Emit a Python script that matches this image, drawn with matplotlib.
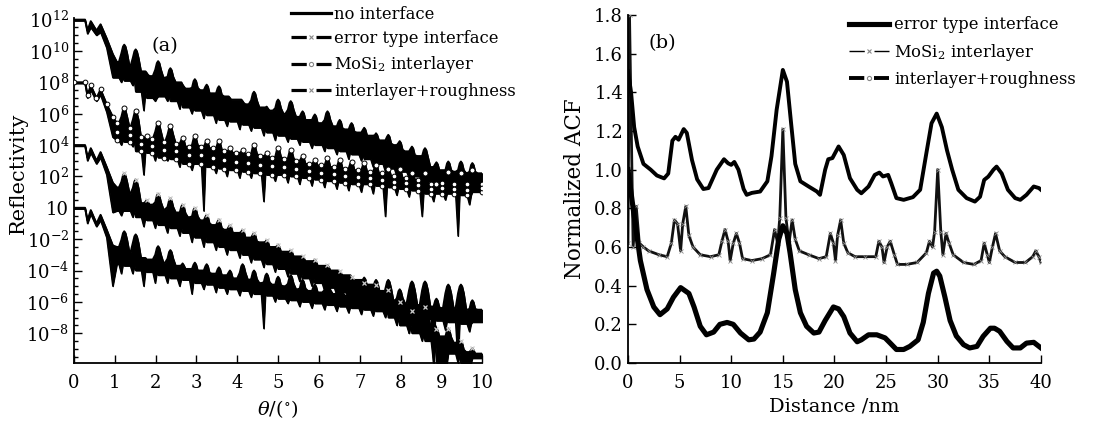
import numpy as np
import matplotlib
matplotlib.use("Agg")
import matplotlib.pyplot as plt
from matplotlib.lines import Line2D
from matplotlib.ticker import FixedLocator, FixedFormatter, NullFormatter, FormatStrFormatter

plt.rcParams['font.family'] = ['DejaVu Serif']
plt.rcParams['mathtext.fontset'] = 'dejavuserif'
plt.rcParams['lines.scale_dashes'] = False

# ---------------- Panel (a) data (log10 of reflectivity) ----------------
theta_early = [0.0, 0.27, 0.33, 0.41, 0.55, 0.65, 0.80, 0.95]
theta_peak = [1.23, 1.51, 1.78, 2.06, 2.36, 2.66, 2.96, 3.25, 3.55, 3.82,
              4.13, 4.41, 4.72, 5.00, 5.31, 5.60, 5.90, 6.21, 6.51, 6.80,
              7.11, 7.40, 7.70, 7.98, 8.28, 8.60, 8.88, 9.17, 9.48, 9.76]
theta_gap = [1.05, 1.37, 1.65, 1.92, 2.21, 2.51, 2.81, 3.10, 3.40, 3.68, 3.97,
             4.27, 4.56, 4.86, 5.15, 5.45, 5.75, 6.05, 6.36, 6.65, 6.95,
             7.25, 7.55, 7.84, 8.13, 8.44, 8.74, 9.02, 9.32, 9.62, 10.0]

# no interface (top curve)
A_early_hi = [12, 12, 11.3, 11.9, 11.3, 11.7, 10.8, 9.8]
A_early_lo = [11.93, 11.93, 11.1, 11.5, 11.0, 11.2, 10.2, 8.3]
A_peak = [10.4, 10.1, 8.6, 9.35, 8.9, 7.85, 8.2, 7.85, 7.75, 7.0, 6.8, 7.4, 6.45, 6.9, 6.8,
          6.15, 5.95, 6.15, 5.6, 5.4, 5.1, 4.75, 4.65, 4.25, 3.9, 3.8, 2.9, 2.95, 2.95, 2.85]
A_top = [9.3, 9.0, 8.7, 8.4, 8.3, 8.0, 7.6, 7.5, 7.3, 7.1, 6.9, 6.6, 6.4, 6.2, 6.0, 5.8,
         5.6, 5.4, 5.2, 5.0, 4.8, 4.6, 4.3, 4.0, 3.6, 3.3, 2.6, 2.4, 2.3, 2.2, 2.2]
A_bot = [8.3, 8.1, 7.4, 7.0, 7.1, 6.8, 6.4, 6.2, 5.9, 5.6, 5.5, 5.3, 5.1, 4.8, 4.6, 4.4,
         4.2, 4.0, 3.8, 3.6, 3.4, 3.1, 2.8, 2.5, 2.3, 2.0, 1.7, 1.5, 1.4, 1.4, 1.4]
A_dip = [8.0, 7.8, 6.2, 6.8, 6.8, 6.3, 6.0, 5.7, 5.4, 5.2, 5.0, 4.9, 4.6, 4.3, 4.2, 4.0,
         3.8, 3.6, 3.4, 3.1, 3.0, 2.6, 2.3, 2.0, 1.9, 1.6, 1.3, 1.2, 1.1, 1.0]

# MoSi2 interlayer (circles)
B_early_hi = [8, 8, 7.2, 7.8, 7.0, 7.55, 6.6, 5.8]
B_early_lo = [7.93, 7.93, 7.0, 7.5, 6.8, 7.2, 6.1, 4.5]
B_peak = [6.35, 6.15, 4.55, 5.4, 5.2, 4.45, 4.55, 4.25, 4.25, 3.8, 3.7, 4.0, 3.5, 3.8, 3.7,
          3.3, 3.05, 3.15, 3.05, 2.95, 2.85, 2.75, 2.5, 2.45, 2.2, 2.2, 1.5, 2.3, 2.2, 2.4]
B_top = [5.4, 5.1, 4.5, 4.4, 4.2, 4.1, 3.9, 3.9, 3.8, 3.6, 3.5, 3.4, 3.3, 3.2, 3.1, 3.0,
         2.8, 2.7, 2.6, 2.5, 2.4, 2.3, 2.2, 2.0, 1.9, 1.8, 1.5, 1.6, 1.5, 1.5, 1.5]
B_bot = [4.3, 4.2, 3.6, 3.5, 3.2, 3.1, 2.8, 2.8, 2.6, 2.5, 2.4, 2.3, 2.2, 2.1, 2.1, 2.0,
         1.9, 1.8, 1.7, 1.6, 1.5, 1.5, 1.4, 1.3, 1.2, 1.1, 0.9, 0.9, 0.9, 0.8, 1.0]
B_dip = [4.0, 3.9, 2.1, 3.0, 3.0, 2.6, 2.4, -0.2, 2.2, 2.0, 1.9, 1.9, 0.4, 1.7, 1.6, 1.5,
         1.4, 1.3, 1.2, 1.1, 1.0, 0.9, -0.55, 0.8, 0.7, -0.55, 0.4, 0.5, -1.8, 0.2]

# error type interface (x markers)
C_early_hi = [4, 4, 3.2, 3.8, 3.0, 3.55, 2.6, 1.6]
C_early_lo = [3.93, 3.93, 3.0, 3.5, 2.8, 3.2, 2.1, -0.3]
C_peak = [2.2, 1.8, 0.5, 0.9, 0.6, 0.2, 0.0, -0.45, -0.75, -1.1, -1.4, -1.6, -2.05, -2.35,
          -2.7, -3.1, -3.3, -3.65, -4.05, -4.4, -4.8, -4.9, -5.25, -6.0, -6.6, -6.3, -7.7,
          -7.7, -8.5, -8.95]
C_top = [1.3, 0.9, 0.3, 0.2, -0.1, -0.3, -0.6, -0.8, -1.1, -1.4, -1.6, -1.9, -2.2, -2.5,
         -2.8, -3.1, -3.4, -3.7, -4.0, -4.3, -4.6, -4.9, -5.3, -5.9, -6.4, -6.9, -7.5, -8.2,
         -8.6, -9.2, -9.3]
C_bot = [-0.2, -0.2, -0.6, -0.8, -1.1, -1.3, -1.6, -1.9, -2.2, -2.5, -2.7, -3.0, -3.3, -3.6,
         -3.9, -4.2, -4.5, -4.8, -5.1, -5.4, -5.7, -6.0, -6.4, -7.0, -7.5, -8.0, -8.5, -9.9,
         -9.3, -9.9, -9.6]
C_dip = [-0.5, -0.6, -1.2, -1.3, -1.6, -1.8, -2.2, -2.5, -2.7, -3.0, -3.2, -3.5, -3.8, -4.1,
         -4.4, -4.7, -5.0, -5.3, -5.6, -5.9, -6.2, -6.5, -6.9, -7.5, -8.0, -8.5, -9.9, -9.9,
         -9.9, -9.9]

# interlayer+roughness (bottom curve)
D_early_hi = [0, 0, -0.8, -0.15, -1.0, -0.45, -1.4, -2.4]
D_early_lo = [-0.07, -0.07, -1.0, -0.4, -1.2, -0.8, -1.9, -5.0]
D_peak = [-1.5, -1.7, -3.3, -2.45, -2.7, -3.55, -3.5, -3.6, -3.8, -4.0, -3.6, -4.0, -4.2,
          -4.4, -4.3, -4.6, -4.9, -4.7, -4.9, -5.0, -4.45, -4.6, -4.6, -5.2, -4.7, -4.7,
          -5.8, -4.9, -4.9, -5.9]
D_top = [-2.5, -2.9, -3.2, -3.3, -3.5, -3.7, -3.9, -4.0, -4.2, -4.3, -4.5, -4.6, -4.8, -4.9,
         -5.0, -5.2, -5.3, -5.4, -5.5, -5.6, -5.7, -5.8, -5.9, -6.0, -6.1, -6.2, -6.3, -6.4,
         -6.4, -6.5, -6.5]
D_bot = [-3.6, -3.7, -4.0, -4.1, -4.3, -4.5, -4.6, -4.8, -4.9, -5.1, -5.2, -5.3, -5.5, -5.6,
         -5.8, -5.9, -6.0, -6.1, -6.2, -6.3, -6.4, -6.5, -6.6, -6.8, -6.9, -7.0, -7.1, -7.2,
         -7.3, -7.4, -7.3]
D_dip = [-4.2, -4.2, -5.0, -4.8, -4.8, -5.0, -5.5, -5.2, -5.4, -5.5, -5.6, -5.7, -7.7, -6.0,
         -6.1, -6.3, -6.4, -6.5, -6.6, -6.7, -6.8, -6.9, -7.0, -7.3, -8.0, -7.5, -9.9, -7.8,
         -9.9, -7.9]

ytick_exp = [12, 10, 8, 6, 4, 2, 0, -2, -4, -6, -8]
ytick_labels = [r'$10^{12}$', r'$10^{10}$', r'$10^{8}$', r'$10^{6}$', r'$10^{4}$',
                r'$10^{2}$', '10', r'$10^{-2}$', r'$10^{-4}$', r'$10^{-6}$', r'$10^{-8}$']

# ---------------- Panel (b) data ----------------
err_x = [0, 0.55, 1.2, 1.84, 2.5, 3.1, 3.8, 4.4, 5.1, 5.9, 6.4, 7.0, 7.6, 8.3, 8.9, 9.6,
         10.2, 10.9, 11.7, 12.2, 12.8, 13.5, 14.1, 14.6, 15.0, 15.4, 15.7, 16.2, 16.7, 17.3,
         18.0, 18.5, 19.1, 19.9, 20.4, 20.9, 21.5, 22.2, 22.6, 23.3, 24.1, 24.9, 25.4, 26.0,
         26.7, 27.3, 28.1, 28.6, 29.1, 29.6, 29.9, 30.2, 30.7, 31.2, 31.8, 32.5, 33.1, 33.8,
         34.4, 35.1, 35.5, 36.0, 36.7, 37.3, 38.0, 38.6, 39.3, 40.0]
err_y = [1.0, 0.78, 0.53, 0.38, 0.29, 0.25, 0.28, 0.34, 0.39, 0.36, 0.29, 0.19, 0.146, 0.16,
         0.2, 0.21, 0.2, 0.155, 0.12, 0.124, 0.16, 0.26, 0.46, 0.64, 0.71, 0.67, 0.57, 0.38,
         0.26, 0.19, 0.155, 0.16, 0.22, 0.29, 0.28, 0.24, 0.155, 0.11, 0.12, 0.146, 0.146,
         0.13, 0.103, 0.07, 0.07, 0.086, 0.12, 0.21, 0.36, 0.465, 0.475, 0.45, 0.34, 0.22,
         0.14, 0.095, 0.078, 0.086, 0.138, 0.18, 0.18, 0.164, 0.112, 0.078, 0.078, 0.103,
         0.107, 0.078]

mo_x = [0.0, 0.15, 0.5, 0.8, 1.1, 1.5, 2.0, 3.0, 3.8, 4.2, 4.5, 4.8, 5.1, 5.3, 5.6, 5.9,
        6.3, 7.0, 8.0, 8.8, 9.1, 9.4, 9.7, 9.9, 10.2, 10.5, 10.8, 11.1, 12.0, 13.0, 13.8,
        14.2, 14.5, 14.7, 15.0, 15.3, 15.6, 15.9, 16.2, 16.6, 17.5, 18.5, 19.2, 19.6, 19.9,
        20.1, 20.3, 20.6, 20.9, 21.3, 22.0, 23.0, 24.0, 24.3, 24.6, 24.8, 25.1, 25.4, 25.8,
        26.1, 27.0, 28.0, 28.9, 29.2, 29.5, 29.7, 30.0, 30.3, 30.5, 30.8, 31.1, 31.5, 32.5,
        33.5, 34.2, 34.5, 34.8, 35.0, 35.3, 35.6, 36.0, 36.5, 37.5, 38.5, 39.2, 39.5, 39.8,
        40.0]
mo_y = [0.62, 1.8, 0.6, 0.81, 0.62, 0.6, 0.58, 0.56, 0.55, 0.62, 0.74, 0.72, 0.58, 0.72,
        0.81, 0.66, 0.6, 0.56, 0.55, 0.56, 0.63, 0.69, 0.63, 0.53, 0.62, 0.67, 0.62, 0.54,
        0.53, 0.54, 0.56, 0.69, 0.62, 0.75, 1.21, 0.75, 0.62, 0.74, 0.64, 0.58, 0.56, 0.54,
        0.55, 0.67, 0.62, 0.53, 0.66, 0.74, 0.62, 0.57, 0.55, 0.55, 0.55, 0.63, 0.6, 0.52,
        0.6, 0.63, 0.56, 0.51, 0.51, 0.52, 0.57, 0.63, 0.6, 0.68, 1.0, 0.68, 0.56, 0.67,
        0.62, 0.56, 0.52, 0.51, 0.53, 0.62, 0.56, 0.52, 0.6, 0.67, 0.58, 0.55, 0.52, 0.52,
        0.55, 0.58, 0.55, 0.52]

ir_x = [0, 0.3, 0.6, 0.94, 1.5, 2.2, 2.8, 3.5, 3.9, 4.3, 4.6, 4.9, 5.4, 5.7, 6.2, 6.7, 7.3,
        7.8, 8.6, 9.3, 9.7, 10.0, 10.3, 10.7, 11.2, 11.5, 12.0, 12.8, 13.5, 13.9, 14.4, 15.0,
        15.4, 15.8, 16.2, 16.7, 17.5, 18.3, 18.6, 19.1, 19.4, 19.8, 20.4, 20.9, 21.5, 22.2,
        22.6, 23.3, 23.9, 24.35, 24.7, 25.2, 25.5, 26.0, 26.7, 27.6, 28.3, 28.9, 29.4, 29.9,
        30.4, 30.9, 31.4, 32.0, 32.8, 33.6, 34.1, 34.5, 34.9, 35.4, 35.7, 36.2, 36.8, 37.5,
        38.0, 38.6, 39.3, 39.8, 40.0]
ir_y = [1.51, 1.4, 1.22, 1.12, 1.03, 1.0, 0.97, 0.955, 0.98, 1.15, 1.17, 1.155, 1.21, 1.19,
        1.05, 0.95, 0.9, 0.905, 1.0, 1.054, 1.033, 1.025, 1.04, 1.0, 0.9, 0.87, 0.88, 0.887,
        0.94, 1.07, 1.31, 1.516, 1.455, 1.24, 1.03, 0.94, 0.913, 0.887, 0.87, 1.0, 1.054,
        1.06, 1.12, 1.076, 0.956, 0.896, 0.878, 0.913, 0.973, 0.985, 0.965, 0.973, 0.93,
        0.853, 0.844, 0.858, 0.896, 1.085, 1.24, 1.29, 1.22, 1.10, 1.0, 0.896, 0.853, 0.835,
        0.86, 0.947, 0.964, 1.0, 1.016, 0.98, 0.896, 0.853, 0.844, 0.87, 0.913, 0.905, 0.896]

# ---------------- Figure ----------------
fig = plt.figure(figsize=(11.15, 4.23), dpi=100)
axa = fig.add_axes([0.0664, 0.1418, 0.366, 0.8155])
axb = fig.add_axes([0.5632, 0.1418, 0.3704, 0.8227])

# peak profile (shape only: half widths in theta, drop from apex in decades)
W_OUT, W_MID, W_IN, DROP_IN, DROP_MID = 0.13, 0.07, 0.03, 0.12, 0.55


def envelope(e_hi, e_lo, pk, top, bot, dip):
    xs = list(theta_early)
    hi = list(e_hi)
    lo = list(e_lo)
    for i, tp in enumerate(theta_peak):
        ml = max(pk[i] - DROP_MID, top[i])
        mr = max(pk[i] - DROP_MID, top[i + 1])
        il = max(pk[i] - DROP_IN, top[i])
        ir = max(pk[i] - DROP_IN, top[i + 1])
        xs += [theta_gap[i], tp - W_OUT, tp - W_MID, tp - W_IN, tp, tp + W_IN, tp + W_MID,
               tp + W_OUT]
        hi += [top[i], top[i], ml, il, pk[i], ir, mr, top[i + 1]]
        lo += [bot[i], bot[i], dip[i], bot[i], bot[i + 1], bot[i + 1], bot[i + 1], bot[i + 1]]
    xs.append(theta_gap[-1])
    hi.append(top[-1])
    lo.append(bot[-1])
    return np.array(xs), 10.0 ** np.array(hi), 10.0 ** np.array(lo)


curves = [
    (A_early_hi, A_early_lo, A_peak, A_top, A_bot, A_dip, None),
    (B_early_hi, B_early_lo, B_peak, B_top, B_bot, B_dip, 'o'),
    (C_early_hi, C_early_lo, C_peak, C_top, C_bot, C_dip, 'x'),
    (D_early_hi, D_early_lo, D_peak, D_top, D_bot, D_dip, None),
]
for e_hi, e_lo, pk, top, bot, dip, mk in curves:
    xs, hi, lo = envelope(e_hi, e_lo, pk, top, bot, dip)
    axa.fill_between(xs, lo, hi, color='black', lw=0.8, zorder=2)
    axa.plot(xs, hi, color='black', lw=1.4, zorder=2)
    axa.plot(xs, lo, color='black', lw=1.0, zorder=2)
    if mk == 'o':
        ptop = np.array(top)
        pbot = np.array(bot)
        axa.plot(theta_peak, 10.0 ** np.array(pk), ls='none', marker='o', ms=3.6,
                 mfc='white', mec='black', mew=0.7, zorder=3)
        axa.plot(theta_gap, 10.0 ** ptop, ls='none', marker='o', ms=3.4,
                 mfc='white', mec='black', mew=0.7, zorder=3)
        axa.plot(theta_gap, 10.0 ** pbot, ls='none', marker='o', ms=3.4,
                 mfc='white', mec='black', mew=0.7, zorder=3)
        axa.plot(theta_gap, 10.0 ** ((ptop + pbot) / 2), ls='none', marker='o', ms=3.4,
                 mfc='white', mec='black', mew=0.7, zorder=3)
        axa.plot(theta_early, 10.0 ** np.array(e_hi), ls='none', marker='o', ms=3.4,
                 mfc='white', mec='black', mew=0.7, zorder=3)
    elif mk == 'x':
        axa.plot(theta_peak, 10.0 ** np.array(pk), ls='none', marker='x', ms=3.2,
                 color='#cccccc', mew=0.9, zorder=3)

axa.set_yscale('log')
axa.set_xlim(0, 10)
axa.set_ylim(10 ** -9.9, 10 ** 12.1)
axa.yaxis.set_major_locator(FixedLocator([10.0 ** e for e in ytick_exp]))
axa.yaxis.set_major_formatter(FixedFormatter(ytick_labels))
minor_exp = [e / 2 for e in range(-19, 24) if e % 4 != 0]
axa.yaxis.set_minor_locator(FixedLocator([10.0 ** e for e in minor_exp]))
axa.yaxis.set_minor_formatter(NullFormatter())
axa.set_xticks(range(0, 11))
axa.set_ylabel('Reflectivity', fontsize=15)
axa.yaxis.set_label_coords(-0.112, 0.55)
axa.set_xlabel(r'$\theta/(^{\circ})$', fontsize=14, labelpad=4)
axa.text(0.19, 0.905, '(a)', transform=axa.transAxes, fontsize=14)

for ax in (axa, axb):
    ax.spines['top'].set_visible(False)
    ax.spines['right'].set_visible(False)
    ax.spines['left'].set_linewidth(1.3)
    ax.spines['bottom'].set_linewidth(1.3)
    ax.tick_params(which='major', direction='in', length=6, width=1.0, labelsize=13)
    ax.tick_params(which='minor', direction='in', length=3, width=1.0)
    ax.tick_params(axis='x', pad=8)


def handle(marker, lw, mcol='#888888'):
    return Line2D([], [], color='black', lw=lw, dashes=(11, 7, 11, 100),
                  marker=marker, ms=3, mfc='white', mec=mcol, mew=0.8)


ha = [Line2D([], [], color='black', lw=2.3),
      handle('x', 2.3), handle('o', 2.3), handle('x', 2.3)]
la = ['no interface', 'error type interface', r'MoSi$_2$ interlayer', 'interlayer+roughness']
axa.legend(ha, la, loc='upper left', bbox_to_anchor=(0.515, 1.055), frameon=False,
           fontsize=11.8, handlelength=2.45, handletextpad=0.2, labelspacing=0.45,
           borderaxespad=0, numpoints=1)

# panel (b)
axb.plot(err_x, err_y, color='black', lw=3.7, solid_joinstyle='round', zorder=3)
axb.plot(mo_x, mo_y, color='#111111', lw=2.0, marker='x', ms=2.5, mew=0.6,
         mec='#888888', zorder=2)
axb.plot(ir_x, ir_y, color='black', lw=2.8, solid_joinstyle='round', zorder=2)
axb.set_xlim(0, 40)
axb.set_ylim(0, 1.8)
axb.set_xticks(range(0, 41, 5))
axb.set_yticks([0.0, 0.2, 0.4, 0.6, 0.8, 1.0, 1.2, 1.4, 1.6, 1.8])
axb.yaxis.set_major_formatter(FormatStrFormatter('%.1f'))
axb.set_ylabel('Normalized ACF', fontsize=15.5, labelpad=6)
axb.set_xlabel('Distance /nm', fontsize=14, labelpad=4)
axb.text(0.05, 0.905, '(b)', transform=axb.transAxes, fontsize=14)

hb = [Line2D([], [], color='black', lw=3.7),
      handle('x', 1.0),
      handle('o', 2.8)]
lb = ['error type interface', r'MoSi$_2$ interlayer', 'interlayer+roughness']
axb.legend(hb, lb, loc='upper left', bbox_to_anchor=(0.52, 1.015), frameon=False,
           fontsize=11.8, handlelength=2.45, handletextpad=0.3, labelspacing=0.5,
           borderaxespad=0, numpoints=1)

fig.savefig('out.png', dpi=100)
